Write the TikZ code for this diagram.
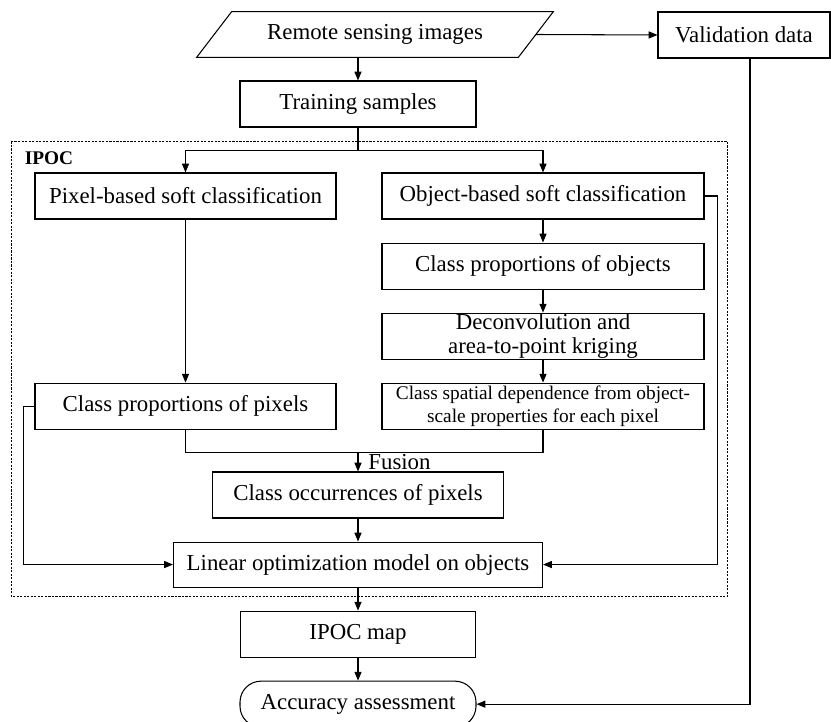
\documentclass[tikz,border=0pt]{standalone}
\usepackage{fontspec}
\setmainfont{Liberation Serif}
\usetikzlibrary{arrows.meta, positioning, calc}

\newcommand{\mainsize}{\fontsize{13}{15}\selectfont}
\newcommand{\smallsize}{\fontsize{11}{13}\selectfont}

\begin{document}
\begin{tikzpicture}[
  node distance=0.46cm,
  every node/.style={font=\mainsize},
  box/.style={draw, line width=0.6pt, minimum height=0.92cm,
              align=center, inner sep=2pt},
  databox/.style={minimum height=0.9cm, minimum width=6.42cm, inner sep=2pt},
  endbox/.style={box, rounded corners=0.42cm},
  arrow/.style={-{Triangle[length=5pt,width=4pt]}, line width=0.6pt},
  line/.style={line width=0.6pt},
  ipocbox/.style={draw, dash pattern=on 1.2pt off 0.8pt, line width=0.45pt}
]
\useasboundingbox (0,0) rectangle (16.62,-14.44);

%% -- Input data ------------------------------------------------
\node[databox] (rsi) at (7.50,-0.69) {Remote sensing images};
\draw[line] ([xshift=0.35cm]rsi.north west) -- ([xshift=0.35cm]rsi.north east)
      -- ([xshift=-0.35cm]rsi.south east) -- ([xshift=-0.35cm]rsi.south west)
      -- cycle;
\node[box, minimum width=3.44cm] (valid) at (14.88,-0.70) {Validation data};
\node[box, minimum width=4.72cm] (train) at (7.16,-2.08) {Training samples};

%% -- Two soft classifications ------------------------------------
\node[box, minimum width=6.02cm] (pixel) at (3.71,-3.92)
      {Pixel-based soft classification};
\node[box, minimum width=6.44cm] (object) at (10.86,-3.92)
      {Object-based soft classification};

%% -- Object branch ------------------------------------------------
\node[box, minimum width=6.44cm, below=of object] (cpo)
      {Class proportions of objects};
\node[box, minimum width=6.44cm, inner ysep=0pt, below=of cpo,
      font=\fontsize{13}{13.6}\selectfont] (deconv)
      {Deconvolution and\\area-to-point kriging};
\node[box, minimum width=6.44cm, inner ysep=0pt, below=of deconv,
      font=\smallsize] (spatial)
      {Class spatial dependence from object-\\scale properties for each pixel};

%% -- Pixel branch -------------------------------------------------
\node[box, minimum width=6.02cm] (cpp) at (pixel |- spatial)
      {Class proportions of pixels};

%% -- Fusion and optimization --------------------------------------
\node[box, minimum width=5.82cm] (occ) at (7.16,-9.90)
      {Class occurrences of pixels};
\node[box, minimum width=7.38cm, minimum height=0.9cm, below=of occ] (linear)
      {Linear optimization model on objects};
\node[box, minimum width=4.70cm, below=of linear] (map) {IPOC map};
\node[endbox, minimum width=4.72cm, below=of map] (acc) {Accuracy assessment};

%% -- Arrows -------------------------------------------------------
\draw[arrow] (rsi.south -| train.north) -- (train.north);
\draw[arrow] (rsi.east) -- (valid.west);

\draw[line] (train.south) -- ++(0,-0.46) coordinate (split);
\draw[arrow] (split) -| (pixel.north);
\draw[arrow] (split) -| (object.north);

\draw[arrow] (pixel)  -- (cpp);
\draw[arrow] (object) -- (cpo);
\draw[arrow] (cpo)    -- (deconv);
\draw[arrow] (deconv) -- (spatial);

\draw[line] (cpp.south) -- ++(0,-0.46) coordinate (fuse) -| (spatial.south);
\draw[arrow] (fuse -| occ.north) -- (occ.north)
      node[midway, right, xshift=0.08cm] {Fusion};

\draw[arrow] (occ)    -- (linear);
\draw[arrow] (linear) -- (map);
\draw[arrow] (map)    -- (acc);

\draw[arrow] (cpp.west) -- ++(-0.22,0) |- (linear.west);
\draw[arrow] (object.east) -- ++(0.26,0) |- (linear.east);
\draw[arrow] ([xshift=0.12cm]valid.south) |- (acc.east);

%% -- IPOC frame ---------------------------------------------------
\draw[ipocbox] ($(pixel.north west)+(-0.46,0.62)$)
      rectangle ($(object.east |- linear.south)+(0.46,-0.18)$);
\node[font=\smallsize\bfseries, anchor=north west, inner sep=0pt] (ipoc)
      at ($(pixel.north west)+(-0.20,0.42)$) {IPOC};

\end{tikzpicture}
\end{document}
